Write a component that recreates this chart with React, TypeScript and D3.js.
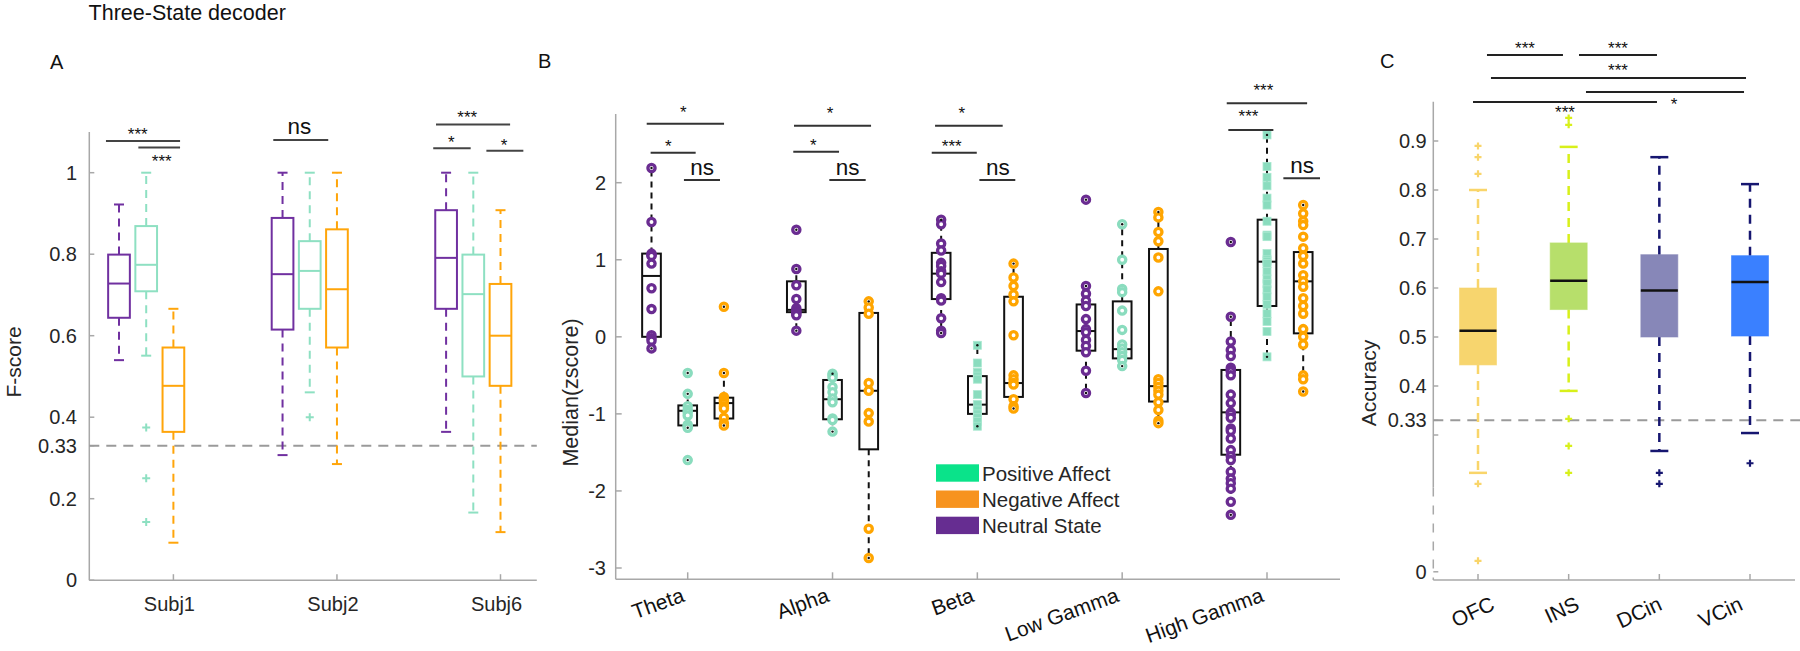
import React from "react";
import * as d3 from "d3";

// ---------------- Panel A data ----------------
const titleText = "Three-State decoder";
const subjects = ["Subj1", "Subj2", "Subj6"];
// [lower whisker, q1, median, q3, upper whisker]
const aNeutral = [[0.54, 0.644, 0.728, 0.799, 0.922], [0.307, 0.615, 0.751, 0.889, 1.0], [0.364, 0.666, 0.791, 0.908, 1.0]];
const aPositive = [[0.551, 0.709, 0.774, 0.869, 1.0], [0.461, 0.666, 0.759, 0.832, 1.0], [0.166, 0.5, 0.702, 0.799, 1.0]];
const aNegative = [[0.092, 0.364, 0.477, 0.571, 0.666], [0.285, 0.571, 0.714, 0.861, 1.0], [0.118, 0.477, 0.6, 0.727, 0.908]];
const aPositiveOutliers = [[0.375, 0.25, 0.143], [0.4], []];
const aTicks = [0, 0.2, 0.33, 0.4, 0.6, 0.8, 1];
const aTickLabels = ["0", "0.2", "0.33", "0.4", "0.6", "0.8", "1"];
const aChance = 0.33;
// significance: x1,x2 (group units), y (value), lx, ly (label centre), label
const aSig = [
  { x1: -0.246, x2: 0.207, y: 1.078, lx: -0.052, ly: 1.103, t: "***" },
  { x1: -0.048, x2: 0.207, y: 1.062, lx: 0.095, ly: 1.038, t: "***" },
  { x1: 0.777, x2: 1.113, y: 1.08, lx: 0.937, ly: 1.109, t: "ns" },
  { x1: 1.772, x2: 2.225, y: 1.118, lx: 1.963, ly: 1.144, t: "***" },
  { x1: 1.755, x2: 1.984, y: 1.06, lx: 1.866, ly: 1.083, t: "*" },
  { x1: 2.08, x2: 2.306, y: 1.054, lx: 2.188, ly: 1.077, t: "*" },
];

// ---------------- Panel B data ----------------
const bands = ["Theta", "Alpha", "Beta", "Low Gamma", "High Gamma"];
const bNeutralBox = [[-0.15, 0.0, 0.79, 1.08, 2.19], [0.08, 0.32, 0.35, 0.72, 0.88], [0.05, 0.49, 0.82, 1.09, 1.52], [-0.73, -0.18, 0.075, 0.42, 0.66], [-2.31, -1.53, -0.98, -0.43, 0.26]];
const bPositiveBox = [[-1.18, -1.15, -0.96, -0.89, -0.74], [-1.23, -1.07, -0.81, -0.56, -0.48], [-1.16, -1.0, -0.88, -0.51, -0.11], [-0.38, -0.28, -0.16, 0.46, 1.46], [-0.26, 0.4, 0.975, 1.52, 2.62]];
const bNegativeBox = [[-1.15, -1.06, -0.86, -0.79, -0.47], [-2.87, -1.46, -0.7, 0.31, 0.46], [-0.93, -0.78, -0.6, 0.52, 0.95], [-1.12, -0.84, -0.64, 1.14, 1.62], [-0.71, 0.045, 0.72, 1.1, 1.71]];
const bNeutralPts = [
  [2.19, 1.49, 1.08, 1.06, 1.05, 0.95, 0.63, 0.36, 0.02, -0.02, -0.05, -0.15],
  [1.39, 0.88, 0.67, 0.49, 0.37, 0.34, 0.32, 0.3, 0.28, 0.08],
  [1.52, 1.46, 1.21, 1.12, 0.96, 0.92, 0.85, 0.82, 0.71, 0.5, 0.47, 0.24, 0.08, 0.05],
  [1.78, 0.66, 0.56, 0.47, 0.4, 0.23, 0.1, 0.06, -0.04, -0.12, -0.2, -0.44, -0.73],
  [1.23, 0.26, -0.06, -0.17, -0.25, -0.4, -0.43, -0.45, -0.5, -0.75, -0.86, -0.98, -1.0, -1.05, -1.19, -1.22, -1.32, -1.47, -1.55, -1.6, -1.75, -1.84, -1.9, -1.97, -2.14, -2.31],
];
const bPositivePts = [
  [-0.47, -0.74, -0.9, -0.95, -0.98, -1.02, -1.14, -1.16, -1.18, -1.6],
  [-0.48, -0.5, -0.53, -0.65, -0.72, -0.8, -0.85, -1.06, -1.08, -1.23],
  [-0.11, -0.34, -0.46, -0.51, -0.55, -0.75, -0.88, -0.95, -1.0, -1.05, -1.1, -1.16],
  [1.46, 1.0, 0.62, 0.58, 0.34, 0.09, -0.1, -0.15, -0.2, -0.25, -0.3, -0.38],
  [2.62, 2.21, 2.07, 1.96, 1.8, 1.71, 1.5, 1.32, 1.3, 1.08, 1.0, 0.98, 0.95, 0.85, 0.75, 0.69, 0.61, 0.52, 0.42, 0.3, 0.2, 0.07, -0.26],
];
const bNegativePts = [
  [0.39, -0.47, -0.78, -0.8, -0.83, -0.86, -0.9, -0.93, -1.05, -1.12, -1.15],
  [0.46, 0.38, 0.3, -0.6, -0.7, -0.99, -1.1, -2.49, -2.87],
  [0.95, 0.77, 0.66, 0.55, 0.46, 0.02, -0.5, -0.55, -0.6, -0.62, -0.81, -0.9, -0.93],
  [1.62, 1.55, 1.36, 1.24, 1.03, 0.59, -0.55, -0.6, -0.65, -0.7, -0.75, -0.85, -0.95, -1.09, -1.12],
  [1.71, 1.6, 1.5, 1.45, 1.3, 1.15, 1.05, 0.95, 0.8, 0.72, 0.65, 0.5, 0.4, 0.3, 0.1, 0.0, -0.1, -0.5, -0.55, -0.71],
];
const bTicks = [-3, -2, -1, 0, 1, 2];
const bSig = [
  { x1: -0.283, x2: 0.251, y: 2.765, lx: -0.03, ly: 2.965, t: "*" },
  { x1: -0.256, x2: 0.055, y: 2.389, lx: -0.134, ly: 2.524, t: "*" },
  { x1: -0.026, x2: 0.223, y: 2.035, lx: 0.099, ly: 2.173, t: "ns" },
  { x1: 0.734, x2: 1.266, y: 2.739, lx: 0.983, ly: 2.943, t: "*" },
  { x1: 0.729, x2: 1.045, y: 2.402, lx: 0.867, ly: 2.531, t: "*" },
  { x1: 0.978, x2: 1.229, y: 2.035, lx: 1.105, ly: 2.173, t: "ns" },
  { x1: 1.708, x2: 2.175, y: 2.739, lx: 1.892, ly: 2.952, t: "*" },
  { x1: 1.685, x2: 1.996, y: 2.389, lx: 1.823, ly: 2.524, t: "***" },
  { x1: 2.014, x2: 2.262, y: 2.035, lx: 2.141, ly: 2.173, t: "ns" },
  { x1: 3.722, x2: 4.277, y: 3.03, lx: 3.975, ly: 3.245, t: "***" },
  { x1: 3.733, x2: 4.044, y: 2.683, lx: 3.872, ly: 2.908, t: "***" },
  { x1: 4.113, x2: 4.366, y: 2.057, lx: 4.242, ly: 2.203, t: "ns" },
];
const legendLabels = ["Positive Affect", "Negative Affect", "Neutral State"];

// ---------------- Panel C data ----------------
const regions = ["OFC", "INS", "DCin", "VCin"];
const cBox = [[0.217, 0.443, 0.513, 0.6, 0.8], [0.39, 0.556, 0.615, 0.692, 0.888], [0.265, 0.5, 0.595, 0.668, 0.867], [0.304, 0.502, 0.612, 0.666, 0.812]];
const cOutliers = [[0.89, 0.867, 0.833, 0.193, 0.024], [0.947, 0.933, 0.333, 0.276, 0.217], [0.217, 0.193], [0.238]];
const cTicks = [0, 0.33, 0.4, 0.5, 0.6, 0.7, 0.8, 0.9];
const cTickLabels = ["0", "0.33", "0.4", "0.5", "0.6", "0.7", "0.8", "0.9"];
const cSig = [
  { x1: 0.099, x2: 0.937, y: 1.0755, lx: 0.518, ly: 1.096, t: "***" },
  { x1: 1.114, x2: 1.974, y: 1.0755, lx: 1.544, ly: 1.096, t: "***" },
  { x1: 0.143, x2: 2.956, y: 1.0286, lx: 1.544, ly: 1.051, t: "***" },
  { x1: 1.191, x2: 2.934, y: 1.0, lx: 2.162, ly: 0.982, t: "*" },
  { x1: -0.055, x2: 1.974, y: 0.9796, lx: 0.96, ly: 0.967, t: "***" },
];

// ---------------- styles ----------------
const FONT = "'Liberation Sans', Arial, Helvetica, sans-serif";
const TXT = "#262626";
const AXIS = "#a8a8a8";
const aColors = ["#7030a0", "#8ee0c2", "#ffa50a"];
const bColors = ["#6a2c91", "#8adcbe", "#ffa500"];
const legendColors = ["#0ae38a", "#f7931e", "#662d91"];
const cFill = ["#f7d56e", "#b7df6b", "#8787b8", "#3a80ff"];
const cLine = ["#f9d56a", "#d8f01a", "#161670", "#161670"];
const cLabelNudge = [18, 12, 4, -6];
const bSquareBands = [false, false, true, false, true];

// ---------------- scales ----------------
const yA = d3.scaleLinear().domain([0, 1.1]).range([580.2, 131.95]);
const xA = d3.scaleLinear().domain([0, 2]).range([146.2, 473.3]);
const aOff = d3.scaleLinear().domain([-1, 1]).range([-27.2, 27.2]);
const yB = d3.scaleLinear().domain([-3, 2]).range([568, 182.7]);
const xB = d3.scaleLinear().domain([0, 4]).range([687.7, 1267]);
const bOff = d3.scaleLinear().domain([-1, 1]).range([-36.2, 36.2]);
const yC = d3.scaleLinear().domain([-0.018, 0.3, 0.9]).range([580, 435, 141]);
const xC = d3.scaleLinear().domain([0, 3]).range([1478, 1750]);

function plus(x: number, y: number, s: number) {
  return `M${x - s},${y}H${x + s}M${x},${y - s}V${y + s}`;
}

function SigMarks({ sig, xs, ys, starSize, color }: any) {
  return (
    <g>
      {sig.map((s: any, i: number) => (
        <g key={i}>
          <line x1={xs(s.x1)} x2={xs(s.x2)} y1={ys(s.y)} y2={ys(s.y)} stroke={color} strokeWidth={2} />
          {s.t === "ns" ? (
            <text x={xs(s.lx)} y={ys(s.ly) + 6} textAnchor="middle" fontSize={22.5} fill="#111">ns</text>
          ) : (
            <text x={xs(s.lx)} y={ys(s.ly) + starSize * 0.55} textAnchor="middle" fontSize={starSize} fill="#111">{s.t}</text>
          )}
        </g>
      ))}
    </g>
  );
}

function PanelA() {
  const series = [aNeutral, aPositive, aNegative];
  const bw = 21.7;
  const cap = 5;
  const axX0 = 89.3, axX1 = 536.8;
  return (
    <g>
      <line x1={axX0} x2={axX0} y1={yA(1.1)} y2={yA(0)} stroke={AXIS} strokeWidth={1.5} />
      <line x1={axX0} x2={axX1} y1={yA(0)} y2={yA(0)} stroke={AXIS} strokeWidth={1.5} />
      {aTicks.map((t, i) => (
        <g key={i}>
          <line x1={axX0} x2={axX0 + 5} y1={yA(t)} y2={yA(t)} stroke={AXIS} strokeWidth={1.5} />
          <text x={77} y={yA(t)} textAnchor="end" dominantBaseline="central" fontSize={20} fill={TXT}>{aTickLabels[i]}</text>
        </g>
      ))}
      {subjects.map((s, i) => (
        <g key={s}>
          <line x1={xA(i) + aOff(1)} x2={xA(i) + aOff(1)} y1={yA(0)} y2={yA(0) - 6} stroke={AXIS} strokeWidth={1.5} />
          <text x={xA(i) + aOff(1) - 4} y={604} textAnchor="middle" dominantBaseline="central" fontSize={20} fill={TXT}>{s}</text>
        </g>
      ))}
      <line x1={axX0} x2={axX1} y1={yA(aChance)} y2={yA(aChance)} stroke="#9a9a9a" strokeWidth={2} strokeDasharray="10,7" />
      {series.map((ser, k) =>
        ser.map((b, i) => {
          const cx = xA(i) + aOff(k - 1);
          const col = aColors[k];
          return (
            <g key={`${k}-${i}`}>
              <line x1={cx} x2={cx} y1={yA(b[3])} y2={yA(b[4])} stroke={col} strokeWidth={2} strokeDasharray="8,6" />
              <line x1={cx} x2={cx} y1={yA(b[1])} y2={yA(b[0])} stroke={col} strokeWidth={2} strokeDasharray="8,6" />
              <line x1={cx - cap} x2={cx + cap} y1={yA(b[4])} y2={yA(b[4])} stroke={col} strokeWidth={2} />
              <line x1={cx - cap} x2={cx + cap} y1={yA(b[0])} y2={yA(b[0])} stroke={col} strokeWidth={2} />
              <rect x={cx - bw / 2} y={yA(b[3])} width={bw} height={yA(b[1]) - yA(b[3])} fill="white" stroke={col} strokeWidth={2} />
              <line x1={cx - bw / 2} x2={cx + bw / 2} y1={yA(b[2])} y2={yA(b[2])} stroke={col} strokeWidth={2} />
            </g>
          );
        })
      )}
      {aPositiveOutliers.map((arr, i) =>
        arr.map((v, j) => (
          <path key={`o${i}-${j}`} d={plus(xA(i) + aOff(0), yA(v), 4)} stroke={aColors[1]} strokeWidth={2} fill="none" />
        ))
      )}
      <SigMarks sig={aSig} xs={xA} ys={yA} starSize={17} color="#444" />
    </g>
  );
}

function PanelB() {
  const boxes = [bNeutralBox, bPositiveBox, bNegativeBox];
  const pts = [bNeutralPts, bPositivePts, bNegativePts];
  const bw = 18.7;
  const axX0 = 615.7, axX1 = 1340;
  const axY0 = 579.3;
  return (
    <g>
      <line x1={axX0} x2={axX0} y1={yB(2.89)} y2={axY0} stroke={AXIS} strokeWidth={1.5} />
      <line x1={axX0} x2={axX1} y1={axY0} y2={axY0} stroke={AXIS} strokeWidth={1.5} />
      {bTicks.map((t) => (
        <g key={t}>
          <line x1={axX0} x2={axX0 + 6} y1={yB(t)} y2={yB(t)} stroke={AXIS} strokeWidth={1.5} />
          <text x={606} y={yB(t)} textAnchor="end" dominantBaseline="central" fontSize={20} fill={TXT}>{t}</text>
        </g>
      ))}
      {bands.map((b, i) => (
        <g key={b}>
          <line x1={xB(i)} x2={xB(i)} y1={axY0} y2={axY0 - 7} stroke={AXIS} strokeWidth={1.5} />
          <text transform={`translate(${xB(i) - 2},601) rotate(-20)`} textAnchor="end" fontSize={21} fill="#111">{b}</text>
        </g>
      ))}
      {boxes.map((ser, k) =>
        ser.map((b, i) => {
          const cx = xB(i) + bOff(k - 1);
          return (
            <g key={`b${k}-${i}`}>
              <line x1={cx} x2={cx} y1={yB(b[3])} y2={yB(b[4])} stroke="#111" strokeWidth={2} strokeDasharray="6,5" />
              <line x1={cx} x2={cx} y1={yB(b[1])} y2={yB(b[0])} stroke="#111" strokeWidth={2} strokeDasharray="6,5" />
              <rect x={cx - bw / 2} y={yB(b[3])} width={bw} height={yB(b[1]) - yB(b[3])} fill="white" stroke="#111" strokeWidth={2} />
              <line x1={cx - bw / 2} x2={cx + bw / 2} y1={yB(b[2])} y2={yB(b[2])} stroke="#111" strokeWidth={2} />
            </g>
          );
        })
      )}
      {pts.map((ser, k) =>
        ser.map((arr, i) => {
          const cx = xB(i) + bOff(k - 1);
          const col = bColors[k];
          const sq = k === 1 && bSquareBands[i];
          const b = boxes[k][i];
          return (
            <g key={`p${k}-${i}`}>
              {arr.map((v, j) =>
                sq ? (
                  <rect key={j} x={cx - 4} y={yB(v) - 4} width={8} height={8} fill={col} stroke="#a8e8d0" strokeWidth={0.8} />
                ) : (
                  <circle key={j} cx={cx} cy={yB(v)} r={3.6} fill="white" stroke={col} strokeWidth={3.3} />
                )
              )}
              {arr.map((v, j) =>
                v >= b[4] - 0.005 || v <= b[0] + 0.005 ? (
                  <circle key={`d${j}`} cx={cx} cy={yB(v)} r={1.2} fill="#111" />
                ) : null
              )}
            </g>
          );
        })
      )}
      <SigMarks sig={bSig} xs={xB} ys={yB} starSize={17} color="#333" />
      {legendLabels.map((l, i) => (
        <g key={l}>
          <rect x={936} y={464.3 + i * 26.2} width={43} height={17.4} fill={legendColors[i]} />
          <text x={982} y={473 + i * 26.2} dominantBaseline="central" fontSize={20.5} fill={TXT}>{l}</text>
        </g>
      ))}
    </g>
  );
}

function PanelC() {
  const bw = 37;
  const cap = 9;
  const axX0 = 1433.3, axX1 = 1795;
  const axY0 = 580;
  return (
    <g>
      <line x1={axX0} x2={axX0} y1={yC(0.98)} y2={yC(0.185)} stroke={AXIS} strokeWidth={1.5} />
      <line x1={axX0} x2={axX0} y1={yC(0.185)} y2={axY0} stroke={AXIS} strokeWidth={1.5} strokeDasharray="9,9" />
      <line x1={axX0} x2={axX1} y1={axY0} y2={axY0} stroke={AXIS} strokeWidth={1.5} />
      {cTicks.map((t, i) => (
        <g key={i}>
          <line x1={axX0} x2={axX0 + 5} y1={yC(t)} y2={yC(t)} stroke={AXIS} strokeWidth={1.5} />
          <text x={1426.7} y={yC(t)} textAnchor="end" dominantBaseline="central" fontSize={20} fill={TXT}>{cTickLabels[i]}</text>
        </g>
      ))}
      <line x1={axX0} x2={axX0 + 5} y1={yC(0.3)} y2={yC(0.3)} stroke={AXIS} strokeWidth={1.5} />
      <line x1={axX0} x2={axX1 + 5} y1={yC(0.33)} y2={yC(0.33)} stroke="#9a9a9a" strokeWidth={2} strokeDasharray="10,7" />
      {regions.map((r, i) => (
        <g key={r}>
          <line x1={xC(i)} x2={xC(i)} y1={axY0} y2={axY0 - 6} stroke={AXIS} strokeWidth={1.5} />
          <text transform={`translate(${xC(i) + cLabelNudge[i]},609) rotate(-25)`} textAnchor="end" fontSize={21} fill="#111">{r}</text>
        </g>
      ))}
      {cBox.map((b, i) => {
        const cx = xC(i);
        const col = cLine[i];
        return (
          <g key={`c${i}`}>
            <line x1={cx} x2={cx} y1={yC(b[3])} y2={yC(b[4])} stroke={col} strokeWidth={2.5} strokeDasharray="9,7" />
            <line x1={cx} x2={cx} y1={yC(b[1])} y2={yC(b[0])} stroke={col} strokeWidth={2.5} strokeDasharray="9,7" />
            <line x1={cx - cap} x2={cx + cap} y1={yC(b[4])} y2={yC(b[4])} stroke={col} strokeWidth={2.5} />
            <line x1={cx - cap} x2={cx + cap} y1={yC(b[0])} y2={yC(b[0])} stroke={col} strokeWidth={2.5} />
            <rect x={cx - bw / 2} y={yC(b[3])} width={bw} height={yC(b[1]) - yC(b[3])} fill={cFill[i]} stroke={cFill[i]} strokeOpacity={0.6} strokeWidth={1} />
            <line x1={cx - bw / 2} x2={cx + bw / 2} y1={yC(b[2])} y2={yC(b[2])} stroke="#111" strokeWidth={2.5} />
            {cOutliers[i].map((v, j) => (
              <path key={j} d={plus(cx, yC(v), 3.5)} stroke={col} strokeWidth={2.2} fill="none" />
            ))}
          </g>
        );
      })}
      <SigMarks sig={cSig} xs={xC} ys={yC} starSize={17} color="#222" />
    </g>
  );
}

export default function App() {
  return (
    <svg width={1800} height={651} viewBox="0 0 1800 651" style={{ position: "absolute", left: 0, top: 0, background: "white" }} fontFamily={FONT}>
      <rect x={0} y={0} width={1800} height={651} fill="white" />
      <text x={88.6} y={20} fontSize={21.5} fill="#111">{titleText}</text>
      <text x={50} y={69} fontSize={20} fill="#111">A</text>
      <text x={538} y={68.3} fontSize={20} fill="#111">B</text>
      <text x={1380} y={68.3} fontSize={20} fill="#111">C</text>
      <text transform="translate(21,362) rotate(-90)" textAnchor="middle" fontSize={21} fill={TXT}>F-score</text>
      <text transform="translate(578,392.5) rotate(-90)" textAnchor="middle" fontSize={21.5} fill={TXT}>Median(zscore)</text>
      <text transform="translate(1376,383) rotate(-90)" textAnchor="middle" fontSize={21} fill={TXT}>Accuracy</text>
      <PanelA />
      <PanelB />
      <PanelC />
    </svg>
  );
}
